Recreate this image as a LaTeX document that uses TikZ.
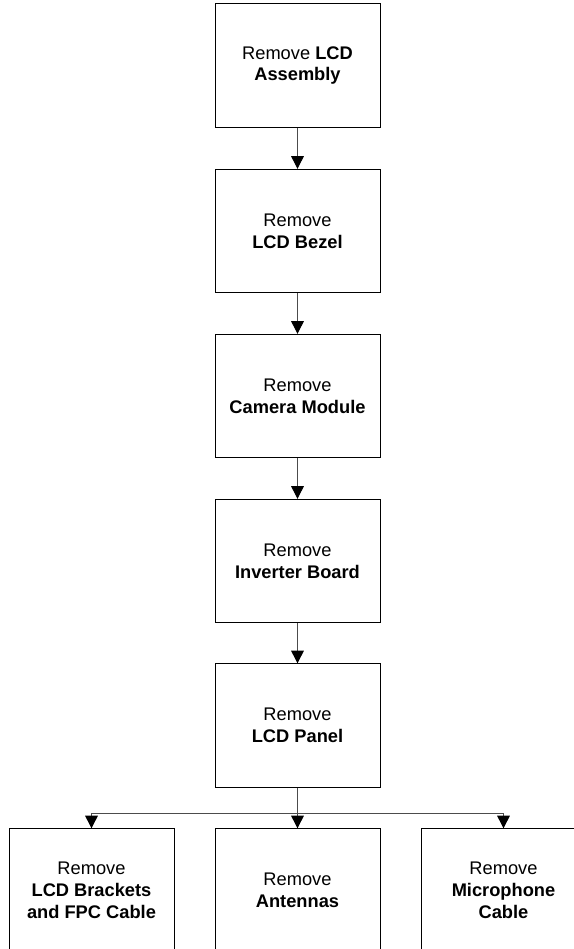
\documentclass[tikz,border=0pt]{standalone}
\usepackage{fontspec}
\setmainfont{Liberation Sans}
\usetikzlibrary{arrows.meta}
\begin{document}
\begin{tikzpicture}[x=0.75pt,y=-0.75pt,
  stepbox/.style={draw=black,line width=0.75pt,rectangle,minimum width=123.75pt,minimum height=92.5pt,inner sep=0pt,align=center,font=\fontsize{13.7}{16.3}\selectfont},
  arr/.style={draw=black!70,line width=0.75pt,-{Triangle[width=9.5pt,length=9.5pt,color=black]}}]
\clip (0,0) rectangle (574,949);
\useasboundingbox (0,0) rectangle (574,949);
\node[stepbox] (b1) at (297.5,65.5) {Remove \textbf{LCD}\\\textbf{Assembly}};
\node[stepbox] (b2) at (297.5,231) {Remove\\\textbf{LCD Bezel}};
\node[stepbox] (b3) at (297.5,396) {Remove\\\textbf{Camera Module}};
\node[stepbox] (b4) at (297.5,561) {Remove\\\textbf{Inverter Board}};
\node[stepbox] (b5) at (297.5,725.5) {Remove\\\textbf{LCD Panel}};
\node[stepbox] (c1) at (91.5,890.5) {Remove\\\textbf{LCD Brackets}\\\textbf{and FPC Cable}};
\node[stepbox] (c2) at (297.5,890.5) {Remove\\\textbf{Antennas}};
\node[stepbox] (c3) at (503.5,890.5) {Remove\\\textbf{Microphone}\\\textbf{Cable}};
\coordinate (j) at (297.5,813);
\draw[arr] (b1) -- (b2);
\draw[arr] (b2) -- (b3);
\draw[arr] (b3) -- (b4);
\draw[arr] (b4) -- (b5);
\draw[arr] (b5) -- (c2);
\draw[arr] (j) -| (c1.north);
\draw[arr] (j) -| (c3.north);
\end{tikzpicture}
\end{document}
